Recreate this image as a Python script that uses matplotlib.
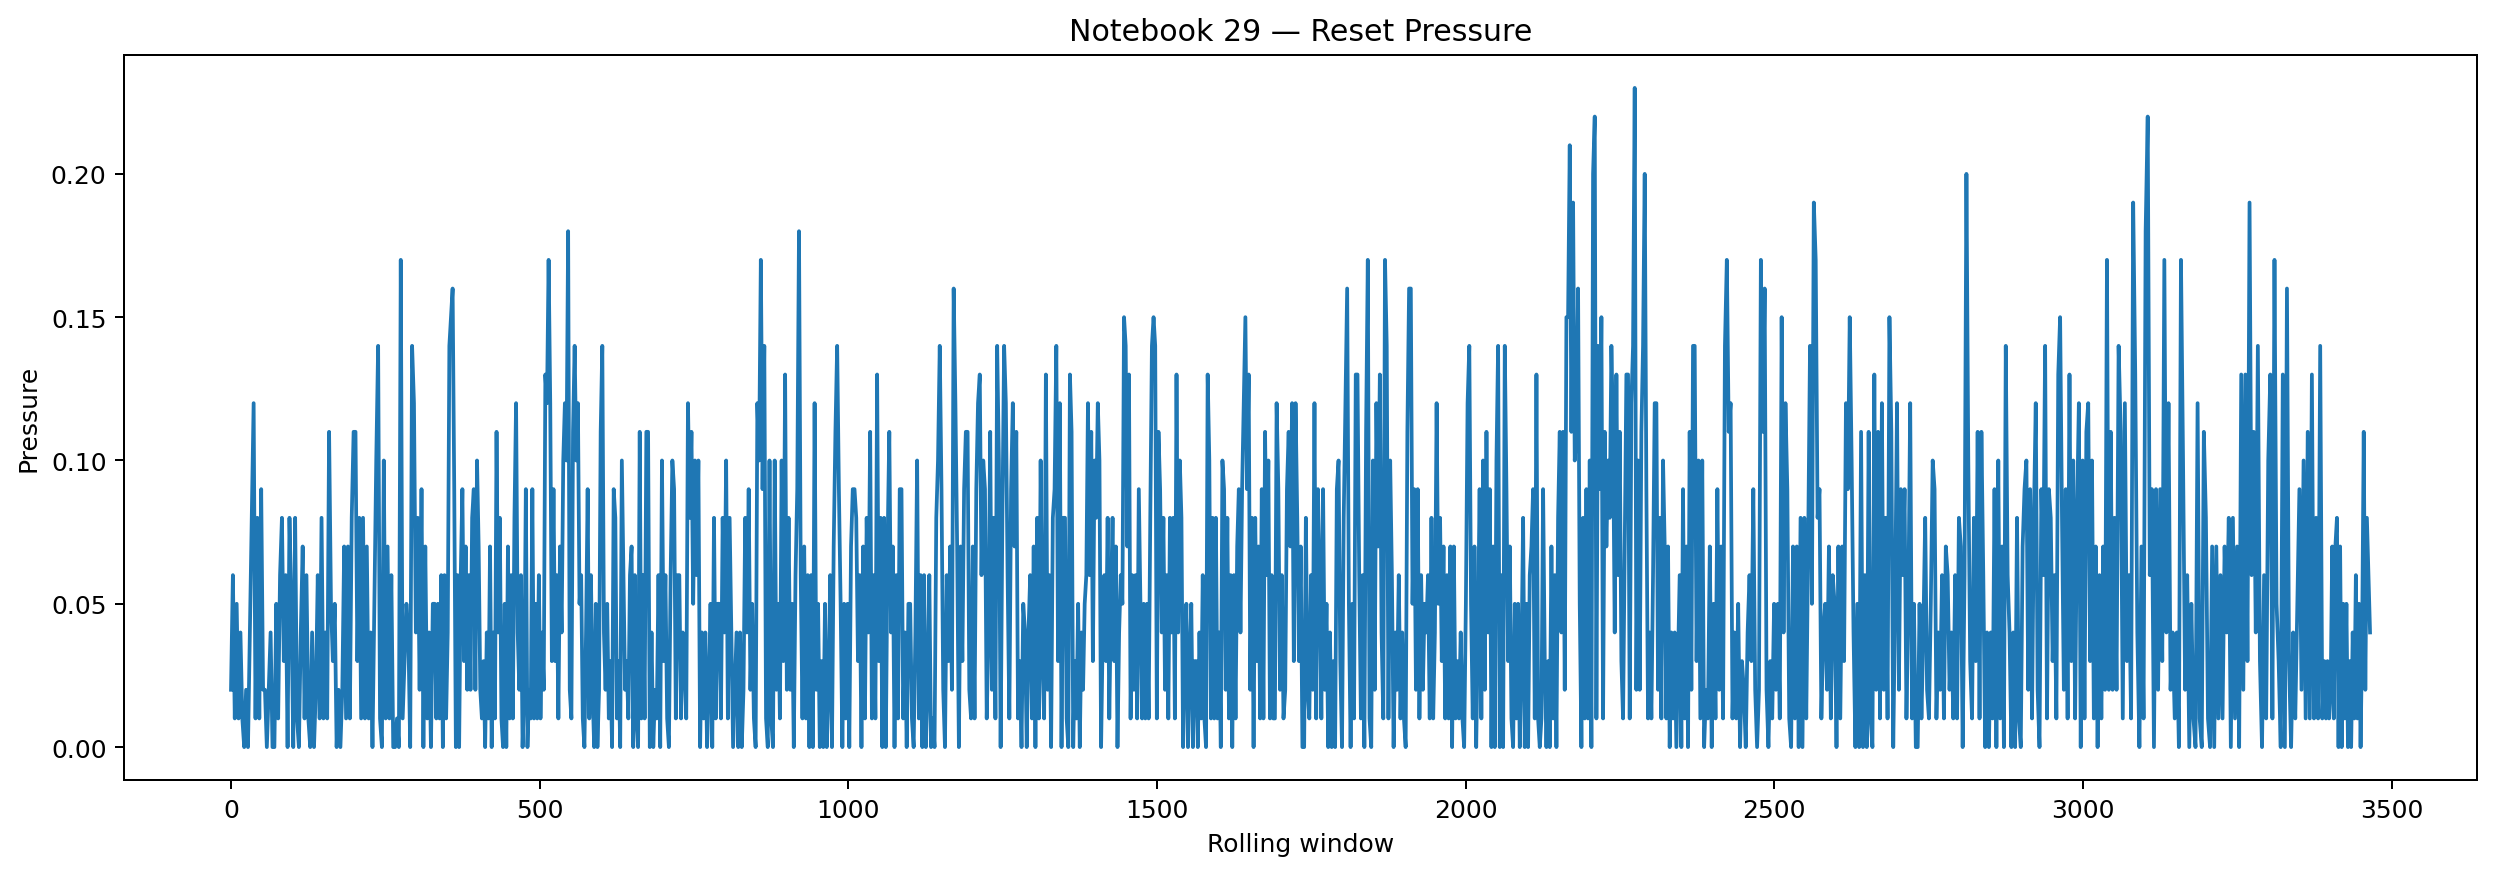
import numpy as np
import matplotlib
matplotlib.use("Agg")
import matplotlib.pyplot as plt

# 압력 값 (단위 0.01), 구간별로 그림에서 읽은 값
seg_edges = [0, 330, 670, 1010, 1351, 1691, 2031, 2371, 2711, 3051, 3391, 3465]

seg01 = [2,6,1,5,1,4,1,0,2,0,4,8,12,1,8,1,9,2,2,0,2,4,0,0,5,1,6,8,3,6,0,8,5,0,8,1,0,4,7,1,6,1,0,4,0,2,6,1,8,1,4,1,11,5,3,5,0,2,0,2,7,1,7,1,8,11,11,3,8,1,8,1,7,1,4,0,5,10,14,1,0,10,1,7,1,6,0,0,1,0,17,1,3,5,4,0,14,12,4,8,2,9,0,7,1,4,0,5]
seg02 = [5,1,5,1,6,0,6,1,4,14,15,16,9,0,6,0,6,9,3,7,2,6,2,8,9,2,10,7,2,1,3,0,4,1,7,0,4,1,11,4,8,1,0,5,0,7,1,6,1,8,12,4,2,6,0,2,9,0,2,1,9,1,5,1,6,1,4,2,13,12,17,12,3,9,3,6,1,7,4,10,12,10,18,2,1,11,14,10,12,5,6,1,0,4,9,1,6,2,0,5,0,2,11,14,4,2,5,1,3,0,9,8,1,3,0,10,6,2,3,1,6,7,0,6,1,0,11,1,6]
seg03 = [1,11,11,0,4,0,2,1,6,0,10,3,6,1,0,6,10,9,1,6,6,1,4,3,1,12,8,11,5,10,6,10,0,4,1,4,0,2,5,0,8,1,5,5,1,8,4,10,1,8,4,0,2,4,0,4,0,2,8,4,9,2,5,1,0,12,10,17,9,14,1,0,10,1,0,10,2,5,1,10,3,13,2,8,2,5,0,6,9,18,6,1,7,1,6,0,6,0,12,2,5,0,3,0,5,0,2,6,0,7,11,14,9,5,0,5,1,5,0,7,9]
seg04 = [9,8,3,6,0,7,1,8,4,11,1,6,1,13,3,8,0,8,0,7,11,4,7,0,6,1,9,9,1,4,0,5,5,1,0,4,10,1,6,0,6,0,2,6,0,1,0,8,10,14,9,2,0,6,3,7,2,16,12,7,0,7,3,9,11,11,2,1,7,1,9,12,13,6,10,9,1,4,11,2,8,1,14,10,0,8,14,12,6,1,9,12,7,11,1,3,0,5,4,0,4,6,1,7,0,8,1,10,3,1,13,2,6,0,8,9,14,3,12,0,8]
seg05 = [8,1,0,13,11,0,3,1,5,0,4,2,5,6,12,6,11,3,10,8,12,10,0,4,6,3,8,1,5,8,3,7,0,4,6,5,15,14,7,13,1,6,2,6,1,9,5,1,5,1,5,1,8,14,15,14,1,11,9,4,8,2,6,1,8,4,8,1,13,4,10,8,0,3,5,0,3,5,0,3,3,0,4,1,6,1,0,13,10,1,8,1,8,1,4,0,10,9,2,8,1,6,0,6,1,7,9,4,9,12,15,9,13,2,8,0,8,3,7,1,9,1,11,6,10,1,6,1]
seg06 = [1,12,9,2,6,1,2,9,11,7,12,3,12,8,3,7,0,0,8,2,1,6,2,12,1,9,6,1,9,2,5,0,4,0,3,0,9,10,3,0,8,12,16,5,0,5,1,13,13,6,1,6,0,11,17,1,0,10,2,12,7,13,4,1,17,14,1,10,6,0,4,2,6,1,4,1,0,11,16,16,5,9,2,9,1,6,2,5,4,6,1,8,1,4,12,5,8,3,7,1,6,1,7,0,7,1,3,1,4,1,0,5,12,14,5,1,7,0,4,9,1,10]
seg07 = [2,11,4,9,0,7,0,10,14,0,6,0,14,9,3,7,1,0,5,1,5,0,3,8,0,5,0,6,7,9,1,13,1,0,1,9,3,0,3,0,7,1,6,0,8,11,4,11,2,15,15,21,11,19,10,11,16,5,0,8,1,9,1,10,0,20,22,1,14,9,15,1,11,7,10,8,14,11,4,13,6,11,3,1,7,13,13,1,12,14,23,2,10,2,11,14,20,9,1,4,1,6,12,12,2,8,1,10,7,1,7,0,4,1,4,0,3,6,0,9,1,7,0,11,2,14]
seg08 = [14,3,10,1,10,0,2,1,7,0,5,1,9,2,7,1,14,17,11,12,1,4,1,5,0,3,2,0,4,6,3,9,2,0,2,17,11,16,2,0,3,1,5,2,5,1,15,4,12,9,1,0,7,1,7,0,8,0,8,1,7,14,5,19,17,8,9,1,4,5,2,7,1,6,5,0,7,1,7,3,12,9,15,10,4,0,5,0,11,0,6,0,11,1,0,13,2,11,1,12,2,8,1,15,11,0,5,12,2,9,6]
seg09 = [9,1,5,12,1,5,0,0,5,1,4,8,2,1,5,10,9,1,4,2,6,1,7,6,2,4,1,6,1,8,7,0,6,20,10,3,1,8,3,11,1,11,6,0,4,0,4,1,9,0,10,1,7,0,14,6,4,0,4,0,8,1,0,7,9,10,2,9,1,8,12,2,0,9,6,14,1,9,8,3,6,1,13,15,8,2,9,1,13,3,10,1,8,12,0,10,1,11,12,3,10,1,7,0,6,1,7,2,17,2,11,2]
seg10 = [8,2,14,11,1,12,3,6,1,19,13,4,0,7,1,18,22,6,9,0,9,2,9,3,17,4,12,2,4,1,4,0,17,10,2,6,0,5,1,0,12,1,0,11,8,1,0,7,0,7,1,6,1,7,4,8,0,8,1,7,0,13,2,13,3,19,6,11,4,14,3,0,6,1,10,13,1,17,5,3,0,13,0,16,3,0,4,1,5,9,2,10,1,11,1,13,1,8,1,14,1]
seg11 = [3,1,3,1,2,7,1,7,8,0,7,0,5,1,5,0,3,0,4,1,6,1,5,0,4,11,2,8,6,4]

segments = [seg01, seg02, seg03, seg04, seg05, seg06, seg07, seg08, seg09, seg10, seg11]

# x (rolling window index) 와 y (pressure)
xs, ys = [], []
for i, seg in enumerate(segments):
    last = i == len(segments) - 1
    xs.append(np.linspace(seg_edges[i], seg_edges[i + 1], len(seg), endpoint=last))
    ys.append(np.array(seg) / 100)
window = np.concatenate(xs)
pressure = np.concatenate(ys)

fig = plt.figure(figsize=(2501 / 180, 877 / 180), dpi=180)
ax = fig.add_axes([0.0496, 0.1094, 0.9408, 0.8268])
ax.plot(window, pressure, color="#1f77b4", linewidth=1.5)
ax.set_title("Notebook 29 \u2014 Reset Pressure")
ax.set_xlabel("Rolling window")
ax.set_ylabel("Pressure")

fig.savefig("out.png", dpi=180)
